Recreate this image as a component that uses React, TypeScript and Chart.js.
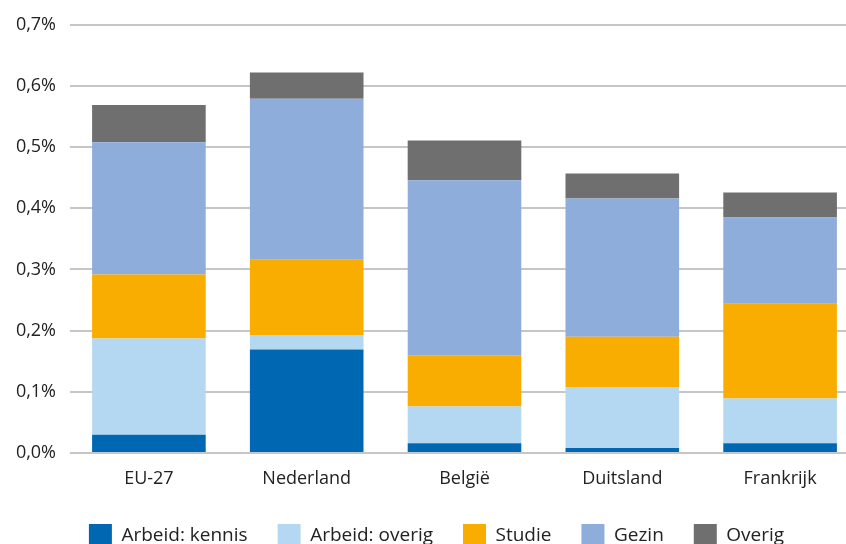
import React, { useEffect, useRef } from "react";
import { Chart, registerables } from "chart.js";

Chart.register(...registerables);

const categories = ["EU-27", "Nederland", "België", "Duitsland", "Frankrijk"];
const arbeidKennis = [0.03, 0.169, 0.016, 0.008, 0.016];
const arbeidOverig = [0.157, 0.024, 0.06, 0.1, 0.073];
const studie = [0.105, 0.123, 0.084, 0.082, 0.155];
const gezin = [0.216, 0.263, 0.286, 0.226, 0.141];
const overig = [0.061, 0.043, 0.065, 0.041, 0.041];

const seriesNames = ["Arbeid: kennis", "Arbeid: overig", "Studie", "Gezin", "Overig"];
const seriesColors = ["#0068B3", "#B4D8F1", "#F9AD00", "#8EADDB", "#6F6F6F"];

const FONT = "'Open Sans', 'Noto Sans', sans-serif";
const TEXT = "#222222";

export default function App() {
  const ref = useRef<HTMLCanvasElement | null>(null);

  useEffect(() => {
    if (!ref.current) return;
    const values = [arbeidKennis, arbeidOverig, studie, gezin, overig];
    const chart = new Chart(ref.current, {
      type: "bar",
      data: {
        labels: categories,
        datasets: values.map((v, i) => ({
          label: seriesNames[i],
          data: v,
          backgroundColor: seriesColors[i],
          borderWidth: 0,
          barPercentage: 0.72,
          categoryPercentage: 1,
        })),
      },
      options: {
        animation: false,
        responsive: false,
        maintainAspectRatio: false,
        layout: { padding: { top: 23, left: 14, right: 0, bottom: 0 } },
        plugins: {
          tooltip: { enabled: false },
          legend: {
            position: "bottom",
            labels: {
              boxWidth: 23,
              boxHeight: 23,
              padding: 30,
              color: TEXT,
              font: { family: FONT, size: 19 },
            },
          },
        },
        scales: {
          x: {
            stacked: true,
            grid: { display: false, drawTicks: false },
            border: { display: false },
            ticks: {
              color: TEXT,
              font: { family: FONT, size: 18 },
              padding: 15,
              maxRotation: 0,
            },
            afterFit: (s: any) => {
              s.height = 41;
            },
          },
          y: {
            stacked: true,
            min: 0,
            max: 0.7,
            grid: { color: "#c6c6c6", lineWidth: 2, drawTicks: false },
            border: { display: false },
            ticks: {
              stepSize: 0.1,
              color: TEXT,
              font: { family: FONT, size: 18 },
              padding: 14,
              callback: (v: any) => Number(v).toFixed(1).replace(".", ",") + "%",
            },
            afterFit: (s: any) => {
              s.width = 56;
            },
          },
        },
      },
    });
    return () => chart.destroy();
  }, []);

  return (
    <div
      style={{
        position: "absolute",
        left: 0,
        top: 0,
        width: 846,
        height: 544,
        overflow: "hidden",
        background: "#ffffff",
      }}
    >
      <canvas ref={ref} width={859} height={557} style={{ width: 859, height: 557, display: "block" }} />
    </div>
  );
}
